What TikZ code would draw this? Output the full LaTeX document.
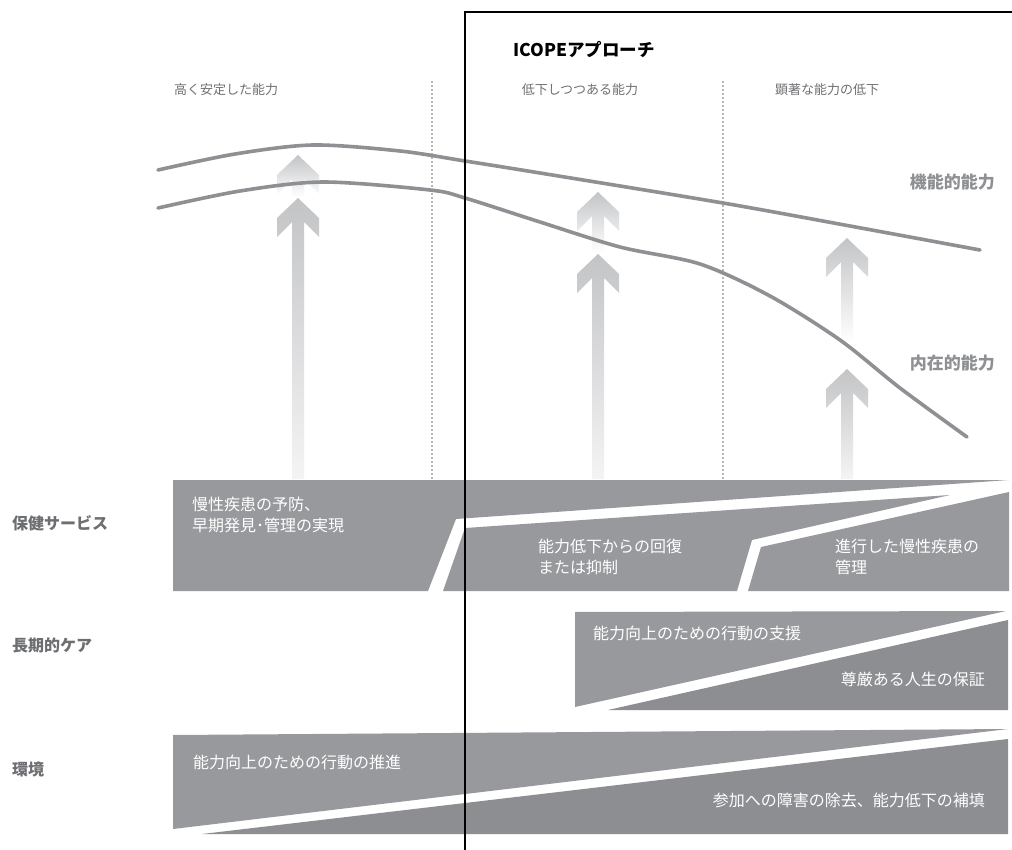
\documentclass[tikz,border=0pt]{standalone}
\usepackage{fontspec}
\setmainfont{Noto Sans CJK JP}
\definecolor{bandgray}{HTML}{98999D}
\definecolor{banddark}{HTML}{8D8E92}
\definecolor{curvegray}{HTML}{8F9093}
\definecolor{arrowgray}{HTML}{C3C4C6}
\definecolor{arrowlight}{HTML}{F4F4F5}
\definecolor{labelgray}{HTML}{6D6E71}
\definecolor{toplabel}{HTML}{707174}
\definecolor{dotgray}{HTML}{6D6E71}
\newcommand\icArrowLow[3]{%
  \shade[top color=arrowgray, bottom color=arrowlight]
    (#1,#2) -- ({#1-21},{#2+20}) -- ({#1-21},{#2+39}) -- ({#1-6},{#2+24})
    -- ({#1-6},#3) -- ({#1+6},#3) -- ({#1+6},{#2+24}) -- ({#1+21},{#2+39})
    -- ({#1+21},{#2+20}) -- cycle;}
\newcommand\icArrowUp[3]{%
  \shade[top color=arrowgray, bottom color=white]
    (#1,#2) -- ({#1-21},{#2+20}) -- ({#1-21},{#2+39}) -- ({#1-6},{#2+24})
    -- ({#1-6},#3) -- ({#1+6},#3) -- ({#1+6},{#2+24}) -- ({#1+21},{#2+39})
    -- ({#1+21},{#2+20}) -- cycle;}
\begin{document}
\begin{tikzpicture}[x=1pt,y=-1pt,
  curve/.style={draw=curvegray, line width=3.6pt, line cap=round},
  dotline/.style={draw=dotgray, line width=1.8pt, line cap=round, dash pattern=on 0pt off 4pt},
  frame/.style={draw=black, line width=1.8pt},
  toplab/.style={text=toplabel, font=\fontsize{13}{15}\selectfont, inner sep=0pt},
  sidelab/.style={text=labelgray, font=\bfseries\fontsize{16}{19}\selectfont, inner sep=0pt, anchor=west},
  curvelab/.style={text=curvegray, font=\bfseries\fontsize{17}{20}\selectfont, inner sep=0pt, anchor=east},
  bandtext/.style={text=white, font=\fontsize{16}{21}\selectfont, inner sep=0pt, align=left}
]
\useasboundingbox (0,0) rectangle (1012,850);
\fill[white] (0,0) rectangle (1012,850);

% dotted phase separators
\coordinate (d1t) at (432,82);
\coordinate (d1b) at (432,479);
\coordinate (d2t) at (723,82);
\coordinate (d2b) at (723,479);
\draw[dotline] (d1t) -- (d1b);
\draw[dotline] (d2t) -- (d2b);

% arrows
\icArrowUp{298}{155}{197}
\icArrowLow{298}{198}{479}
\icArrowUp{598}{192}{252}
\icArrowLow{598}{254}{479}
\icArrowUp{847}{238}{342}
\icArrowLow{847}{369}{479}

% curves
\draw[curve] plot[smooth] coordinates {(158,170) (235,154) (313,145) (400,151) (465,161) (540,173) (723,203) (850,226) (980,250)};
\draw[curve] plot[smooth] coordinates {(158,208) (240,191) (323,182) (430,190) (465,198) (540,222) (620,247) (700,264) (770,296) (840,340) (900,388) (967,437)};

% health services band
\fill[bandgray] (173,480) -- (1009,480) -- (456,519) -- (428,591) -- (173,591) -- cycle;
\fill[bandgray] (465,528) -- (950,495) -- (752,540) -- (737,591) -- (443,591) -- cycle;
\fill[bandgray] (761,547) -- (1009,492) -- (1009,591) -- (748,591) -- cycle;

% long-term care band
\fill[bandgray] (575,612) -- (1006,611) -- (575,707) -- cycle;
\fill[banddark] (1008,620) -- (1008,710) -- (608,710) -- cycle;

% environment band
\fill[bandgray] (173,735) -- (1008,729) -- (173,829) -- cycle;
\fill[banddark] (1008,739) -- (1008,834) -- (202,834) -- cycle;

% ICOPE frame
\coordinate (fb) at (465,850);
\coordinate (fc) at (465,12);
\coordinate (fr) at (1012,12);
\draw[frame] (fb) -- (fc) -- (fr);

% texts
\node[inner sep=0pt, anchor=west, font=\bfseries\fontsize{17.5}{20}\selectfont] (title) at (513,50) {ICOPEアプローチ};
\node[toplab] (ph1) at (226,90) {高く安定した能力};
\node[toplab] (ph2) at (580,90) {低下しつつある能力};
\node[toplab] (ph3) at (827,90) {顕著な能力の低下};

\node[curvelab] (fa) at (995,182) {機能的能力};
\node[curvelab] (ia) at (995,363) {内在的能力};

\node[sidelab] (hs) at (12,523) {保健サービス};
\node[sidelab] (lc) at (12,645) {長期的ケア};
\node[sidelab] (env) at (12,769) {環境};

\node[bandtext, anchor=north west] (hs1) at (192,497) {慢性疾患の予防、\\早期発見･管理の実現};
\node[bandtext, anchor=north west] (hs2) at (538,539) {能力低下からの回復\\または抑制};
\node[bandtext, anchor=north west] (hs3) at (835,539) {進行した慢性疾患の\\管理};

\node[bandtext, anchor=west] (lc1) at (593,633) {能力向上のための行動の支援};
\node[bandtext, anchor=east] (lc2) at (985,679) {尊厳ある人生の保証};

\node[bandtext, anchor=west] (en1) at (193,762) {能力向上のための行動の推進};
\node[bandtext, anchor=east] (en2) at (985,800) {参加への障害の除去、能力低下の補填};
\end{tikzpicture}
\end{document}
